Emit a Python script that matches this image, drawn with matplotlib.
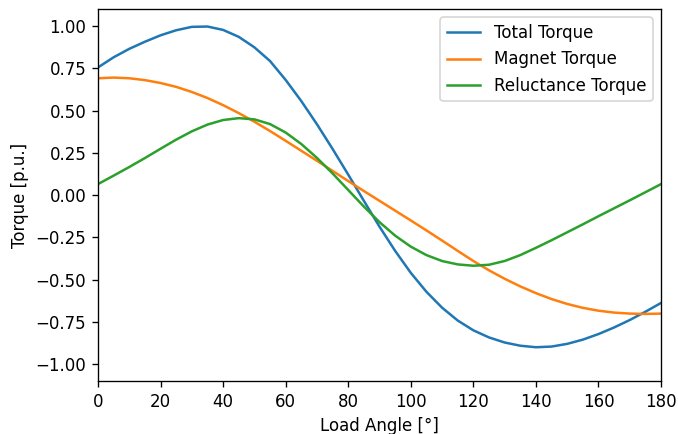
import matplotlib
matplotlib.use('Agg')
import matplotlib.pyplot as plt
import numpy as np

# load angle in degrees, 5 degree steps
load_angle = np.arange(0, 181, 5)

total_torque = [0.755, 0.815, 0.865, 0.907, 0.945, 0.975, 0.995, 0.997, 0.977, 0.936,
                0.874, 0.793, 0.681, 0.556, 0.419, 0.273, 0.121, -0.034, -0.187, -0.330,
                -0.460, -0.572, -0.666, -0.742, -0.800, -0.842, -0.872, -0.891, -0.900, -0.896,
                -0.880, -0.855, -0.822, -0.783, -0.739, -0.690, -0.638]

magnet_torque = [0.691, 0.695, 0.691, 0.680, 0.663, 0.640, 0.610, 0.574, 0.532, 0.485,
                 0.434, 0.379, 0.321, 0.262, 0.203, 0.143, 0.083, 0.024, -0.034, -0.092,
                 -0.150, -0.209, -0.269, -0.330, -0.390, -0.445, -0.495, -0.540, -0.580, -0.615,
                 -0.644, -0.667, -0.684, -0.695, -0.701, -0.703, -0.701]

reluctance_torque = [0.065, 0.115, 0.166, 0.219, 0.274, 0.328, 0.377, 0.417, 0.444, 0.455,
                     0.448, 0.420, 0.370, 0.302, 0.220, 0.128, 0.030, -0.068, -0.160, -0.240,
                     -0.305, -0.355, -0.390, -0.410, -0.418, -0.412, -0.390, -0.355, -0.312, -0.267,
                     -0.220, -0.173, -0.125, -0.078, -0.031, 0.017, 0.065]

fig, ax = plt.subplots(figsize=(678 / 120, 434 / 120), dpi=120)
fig.subplots_adjust(left=0.1445, right=0.975, top=0.979, bottom=0.122)

ax.plot(load_angle, total_torque, label='Total Torque')
ax.plot(load_angle, magnet_torque, label='Magnet Torque')
ax.plot(load_angle, reluctance_torque, label='Reluctance Torque')

ax.set_xlim(0, 180)
ax.set_ylim(-1.1, 1.1)
ax.set_xticks(np.arange(0, 181, 20))
ax.set_yticks(np.arange(-1.0, 1.01, 0.25))
ax.set_xlabel('Load Angle [°]')
ax.set_ylabel('Torque [p.u.]')
ax.legend(loc='upper right')

plt.savefig('out.png', dpi=120)
